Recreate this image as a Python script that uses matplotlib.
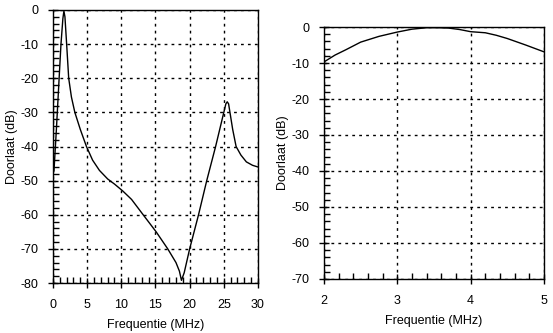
import matplotlib
matplotlib.use("Agg")
import matplotlib.pyplot as plt
from matplotlib.ticker import MultipleLocator

plt.rcParams['font.family'] = ['Liberation Sans', 'DejaVu Sans']
plt.rcParams['font.size'] = 9
plt.rcParams['axes.unicode_minus'] = False

# Left chart: wide range response
freq_wide = [0.0, 0.15, 0.5, 0.9, 1.17, 1.45, 1.6, 1.75, 2.0, 2.3, 2.7, 3.2, 4.0, 4.9, 5.8,
             6.8, 8.0, 9.0, 10.2, 11.5, 13.2, 15.1, 16.8, 18.0, 18.5, 18.8, 19.2, 20.0,
             21.3, 22.5, 23.8, 24.4, 25.0, 25.3, 25.5, 25.7, 25.9, 26.3, 26.8, 27.5,
             28.3, 29.2, 30.0]
gain_wide = [-48.0, -47.0, -35.0, -20.0, -10.0, -2.5, -0.3, -2.0, -10.0, -20.0, -25.5, -30.0,
             -35.0, -40.0, -44.0, -47.0, -49.5, -51.0, -53.0, -55.5, -60.0, -65.0, -70.0,
             -74.0, -76.5, -79.2, -77.0, -70.0, -60.0, -50.0, -40.0, -35.0, -30.0, -27.5,
             -26.9, -27.5, -30.0, -35.0, -40.0, -42.5, -44.5, -45.5, -46.0]

# Right chart: passband detail
freq_pass = [2.0, 2.15, 2.3, 2.5, 2.75, 3.0, 3.2, 3.4, 3.55, 3.7, 3.85, 4.0, 4.2, 4.35,
             4.5, 4.75, 5.0]
gain_pass = [-9.7, -7.8, -6.3, -4.2, -2.6, -1.4, -0.6, -0.2, -0.2, -0.3, -0.7, -1.3, -1.6,
             -2.3, -3.2, -5.0, -6.9]

wide_xticks = [0, 5, 10, 15, 20, 25, 30]
wide_yticks = [0, -10, -20, -30, -40, -50, -60, -70, -80]
pass_xticks = [2, 3, 4, 5]
pass_yticks = [0, -10, -20, -30, -40, -50, -60, -70]

fig = plt.figure(figsize=(5.53, 3.33), dpi=100)
ax1 = fig.add_axes([0.0958, 0.150, 0.3707, 0.820])
ax2 = fig.add_axes([0.5859, 0.1622, 0.3978, 0.7567])


def style(ax, xt, yt, xminor, yminor):
    ax.set_xticks(xt)
    ax.set_yticks(yt)
    ax.set_xlim(min(xt), max(xt))
    ax.set_ylim(min(yt), max(yt))
    ax.xaxis.set_minor_locator(MultipleLocator(xminor))
    ax.yaxis.set_minor_locator(MultipleLocator(yminor))
    ax.tick_params(which='major', direction='inout', length=7, width=1, color='black',
                   labelsize=9)
    ax.tick_params(axis='x', which='major', pad=8)
    ax.tick_params(axis='y', which='major', pad=7)
    ax.tick_params(which='minor', direction='in', length=4, width=1, color='black')
    ax.grid(True, which='major', linestyle=(0, (2, 3)), color='black', linewidth=1)
    for s in ax.spines.values():
        s.set_linewidth(1)
        s.set_color('black')
    ax.set_xlabel('Frequentie (MHz)', fontsize=9, labelpad=6)
    ax.set_ylabel('Doorlaat (dB)', fontsize=9, labelpad=2)


ax1.plot(freq_wide, gain_wide, color='black', linewidth=1)
style(ax1, wide_xticks, wide_yticks, 1, 2)

ax2.plot(freq_pass, gain_pass, color='black', linewidth=1)
style(ax2, pass_xticks, pass_yticks, 0.2, 2)

fig.savefig('out.png', dpi=100)
